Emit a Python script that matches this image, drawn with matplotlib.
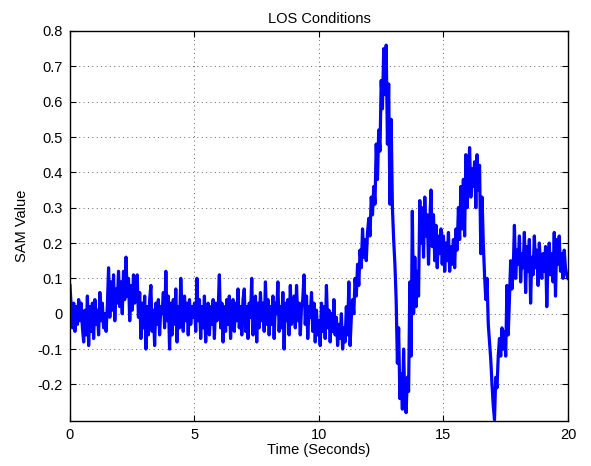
import numpy as np
import matplotlib
matplotlib.use("Agg")
import matplotlib.pyplot as plt

plt.rcParams["font.family"] = ["Liberation Sans", "DejaVu Sans"]

# Sample spacing (seconds) of the SAM trace
dt = 0.05

# SAM value per sample, in hundredths, one row per second of recording
sam_cents = [
    # 0 s
    8, 2, -4, 3, -5, 2, -3, 4, -2, 3, -4, -8, 1, -6, 5, -9, 2, -5, 3, -7,
    # 1 s
    4, -3, 1, -6, 6, -2, 3, -4, 0, -5, 2, 13, -1, 9, 1, 11, -2, 7, 3, 12,
    # 2 s
    2, 9, 0, 12, 4, 16, 5, 10, -2, 8, 1, 11, 3, 9, 11, -1, 6, -7, 3, -4,
    # 3 s
    5, -10, 2, -6, 4, 8, -5, 1, -9, 3, -3, 4, -6, 2, 0, 6, -4, 12, -2, 5,
    # 4 s
    -10, 3, -6, 4, -3, 7, -8, 2, -4, 10, 1, -5, 5, -2, 3, -6, 4, -3, 2, -1,
    # 5 s
    3, -5, 10, -2, 4, -7, 2, -4, 5, -8, 1, 3, -6, 2, -3, 4, -7, 3, -2, 1,
    # 6 s
    11, -4, 3, -8, 2, -5, 4, -3, 5, -7, 1, 4, -5, 3, -2, 7, -4, 2, -6, 4,
    # 7 s
    7, -5, 2, -7, 3, -1, 10, -6, 1, 5, -8, 3, -4, 6, -2, 3, -5, 9, -3, 4,
    # 8 s
    -6, 2, -3, 5, -7, 3, 0, 9, -5, 2, -4, 6, -10, 3, -2, 4, -6, 8, -3, 1,
    # 9 s
    5, -4, 8, -2, 3, -6, 2, 4, 11, -3, 5, -7, 2, -1, 6, -5, 3, -8, 1, -6,
    # 10 s
    -2, -9, 3, -5, 2, -7, 8, -4, 1, -8, 0, -5, 4, -6, -1, -9, -3, -7, 0, -10,
    # 11 s
    -4, -8, 2, -6, 9, -9, -1, 4, 0, 10, 5, 14, 8, 18, 13, 24, 16, 21, 15, 23,
    # 12 s
    27, 22, 33, 28, 36, 31, 48, 38, 52, 46, 66, 58, 75, 62, 76, 48, 65, 31, 55, 30,
    # 13 s
    21, 14, 4, -14, -4, -24, -17, -27, -10, -25, -28, -18, -22, 9, -12, 29, 0, 16, 2, 12,
    # 14 s
    5, 32, 20, 30, 16, 33, 22, 28, 14, 26, 35, 19, 28, 15, 25, 13, 22, 17, 24, 14,
    # 15 s
    22, 12, 20, 15, 23, 12, 19, 14, 21, 13, 24, 18, 30, 21, 36, 24, 38, 22, 45, 30,
    # 16 s
    38, 47, 33, 41, 36, 43, 30, 45, 35, 42, 17, 33, 20, 11, 4, 10, -3, -8, -13, -20,
    # 17 s
    -26, -30, -18, -21, -12, -7, -12, -4, -10, -5, -12, 8, -6, 4, 15, 7, 12, 25, 10, 18,
    # 18 s
    14, 22, 9, 17, 13, 23, 6, 19, 12, 21, 3, 16, 11, 22, 13, 18, 8, 20, 14, 10,
    # 19 s
    17, 12, 19, 2, 15, 20, 11, 17, 9, 23, 5, 21, 14, 22, 12, 17, 10, 18, 13, 11,
    # 20 s
    10,
]

x_ticks = [0, 5, 10, 15, 20]
y_ticks = [-0.2, -0.1, 0, 0.1, 0.2, 0.3, 0.4, 0.5, 0.6, 0.7, 0.8]
y_tick_labels = ["-0.2", "-0.1", "0", "0.1", "0.2", "0.3", "0.4", "0.5", "0.6", "0.7", "0.8"]

sam = np.array(sam_cents) / 100.0
t = np.arange(len(sam)) * dt

fig = plt.figure(figsize=(5.91, 4.66), dpi=100)
ax = fig.add_axes([0.1184, 0.0966, 0.8426, 0.8369])

ax.plot(t, sam, color=(0, 0, 1), linewidth=2.3)

ax.set_xlim(0, 20)
ax.set_ylim(-0.3035, 0.8)
ax.set_xticks(x_ticks)
ax.set_yticks(y_ticks)
ax.set_yticklabels(y_tick_labels)

ax.grid(True, linestyle=(0, (1, 3.5)), color="#666666", linewidth=0.7)
ax.tick_params(direction="in", top=True, right=True, length=4, width=0.8,
               labelsize=10.5, pad=5)
for s in ax.spines.values():
    s.set_linewidth(1.0)

ax.set_title("LOS Conditions", fontsize=10.5, pad=6)
ax.set_xlabel("Time (Seconds)", fontsize=10.5, labelpad=1)
ax.set_ylabel("SAM Value", fontsize=10.5, labelpad=6)

fig.savefig("out.png", dpi=100)
